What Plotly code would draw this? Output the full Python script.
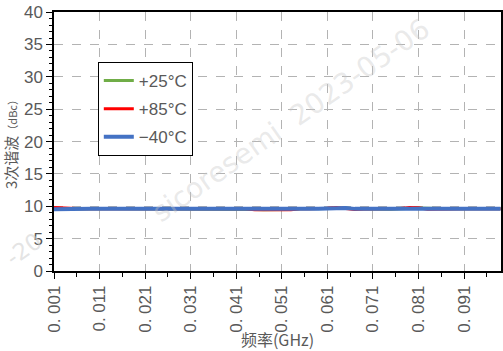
import plotly.graph_objects as go

# Frequency sweep (GHz) and 3rd-harmonic level (dBc) per temperature
freq_ghz = [0.001, 0.003, 0.005, 0.007, 0.009, 0.011, 0.013, 0.015, 0.017, 0.019,
            0.021, 0.023, 0.025, 0.027, 0.029, 0.031, 0.033, 0.035, 0.037, 0.039,
            0.041, 0.043, 0.045, 0.047, 0.049, 0.051, 0.053, 0.055, 0.057, 0.059,
            0.061, 0.063, 0.065, 0.067, 0.069, 0.071, 0.073, 0.075, 0.077, 0.079,
            0.081, 0.083, 0.085, 0.087, 0.089, 0.091, 0.093, 0.095, 0.097, 0.099]

h3_25c = [9.58, 9.60, 9.60, 9.60, 9.60, 9.60, 9.60, 9.60, 9.60, 9.60,
          9.60, 9.60, 9.60, 9.60, 9.60, 9.60, 9.60, 9.60, 9.60, 9.60,
          9.60, 9.60, 9.50, 9.45, 9.45, 9.45, 9.50, 9.60, 9.60, 9.60,
          9.65, 9.74, 9.74, 9.60, 9.58, 9.56, 9.48, 9.56, 9.60, 9.70,
          9.74, 9.70, 9.62, 9.62, 9.62, 9.62, 9.62, 9.62, 9.62, 9.62]

h3_85c = [9.80, 9.70, 9.60, 9.60, 9.60, 9.60, 9.60, 9.60, 9.60, 9.60,
          9.70, 9.68, 9.60, 9.60, 9.60, 9.60, 9.60, 9.60, 9.60, 9.60,
          9.60, 9.60, 9.48, 9.44, 9.45, 9.45, 9.47, 9.60, 9.60, 9.60,
          9.68, 9.80, 9.62, 9.52, 9.58, 9.60, 9.60, 9.60, 9.64, 9.80,
          9.76, 9.56, 9.60, 9.62, 9.62, 9.62, 9.62, 9.62, 9.62, 9.62]

h3_m40c = [9.56, 9.60, 9.60, 9.60, 9.60, 9.60, 9.60, 9.60, 9.60, 9.60,
           9.60, 9.60, 9.60, 9.60, 9.60, 9.60, 9.60, 9.60, 9.60, 9.60,
           9.60, 9.60, 9.50, 9.45, 9.45, 9.45, 9.50, 9.60, 9.60, 9.60,
           9.65, 9.75, 9.75, 9.60, 9.60, 9.60, 9.60, 9.60, 9.60, 9.70,
           9.75, 9.70, 9.62, 9.62, 9.62, 9.62, 9.62, 9.62, 9.62, 9.62]

series_names = ["+25°C", "+85°C", "−40°C"]
series_colors = ["#70AD47", "#FF0000", "#4472C4"]
series_widths = [3, 3, 4]

x_tick_vals = [0.001, 0.011, 0.021, 0.031, 0.041, 0.051, 0.061, 0.071, 0.081, 0.091]
x_tick_text = ["0. 001", "0. 011", "0. 021", "0. 031", "0. 041",
               "0. 051", "0. 061", "0. 071", "0. 081", "0. 091"]
y_tick_vals = [0, 5, 10, 15, 20, 25, 30, 35, 40]

CJK_FONT = "Noto Sans CJK SC"
NUM_FONT = "Liberation Sans"
TICK_COLOR = "#595959"

fig = go.Figure()
for i, (name, ys, color, w) in enumerate(zip(series_names, [h3_25c, h3_85c, h3_m40c],
                                              series_colors, series_widths)):
    fig.add_trace(go.Scatter(
        x=freq_ghz, y=ys, mode="lines", name=name,
        line=dict(color=color, width=w),
        legendgroup=f"g{i}",
    ))

axis_common = dict(
    showline=True, linecolor="black", linewidth=1.5, mirror=True,
    showgrid=True, gridcolor="#b3b3b3", griddash="dash", gridwidth=1,
    zeroline=False, ticks="outside", tickcolor="black",
    tickfont=dict(family=NUM_FONT, size=17, color=TICK_COLOR),
)

fig.update_xaxes(
    **axis_common,
    range=[0.001, 0.0991],
    tickmode="array", tickvals=x_tick_vals, ticktext=x_tick_text,
    tickangle=-90, ticklen=6,
    minor=dict(ticks="outside", ticklen=4, tickcolor="black", dtick=0.005, tick0=0.001, showgrid=False),
    title=dict(text="频率(GHz)", font=dict(family=CJK_FONT, size=16, color=TICK_COLOR), standoff=4),
)
fig.update_yaxes(
    **axis_common,
    range=[0, 40.02],
    tickmode="array", tickvals=y_tick_vals, ticklen=6,
    minor=dict(ticks="outside", ticklen=3, tickcolor="black", dtick=1, showgrid=False),
    title=dict(text="3次谐波<span style='font-size:11px'>（dBc）</span>",
               font=dict(family=CJK_FONT, size=15, color=TICK_COLOR), standoff=4),
)

# Faint diagonal watermark text
fig.add_annotation(
    x=0.53, y=0.58, xref="paper", yref="paper",
    text="sicoresemi  2023-05-06", showarrow=False, textangle=-35,
    font=dict(family="DejaVu Sans", size=28, color="rgba(200,200,200,0.40)"),
)
# Watermark fragment at the lower left, just left of the plot area
fig.add_annotation(
    x=0.0, y=0.0, xref="paper", yref="paper",
    xanchor="center", yanchor="middle",
    xshift=-30, yshift=22,
    text="-20", showarrow=False, textangle=-35,
    font=dict(family="DejaVu Sans", size=23, color="rgba(205,205,205,0.55)"),
)

fig.update_layout(
    width=503, height=351,
    margin=dict(l=54, r=0, t=12, b=80),
    paper_bgcolor="white", plot_bgcolor="white",
    showlegend=True,
    legend=dict(
        x=0.098, y=0.807, xanchor="left", yanchor="top",
        bordercolor="black", borderwidth=1, bgcolor="white",
        font=dict(family=NUM_FONT, size=17, color=TICK_COLOR),
        tracegroupgap=3, itemwidth=30,
    ),
)

fig.write_html("out.html")
